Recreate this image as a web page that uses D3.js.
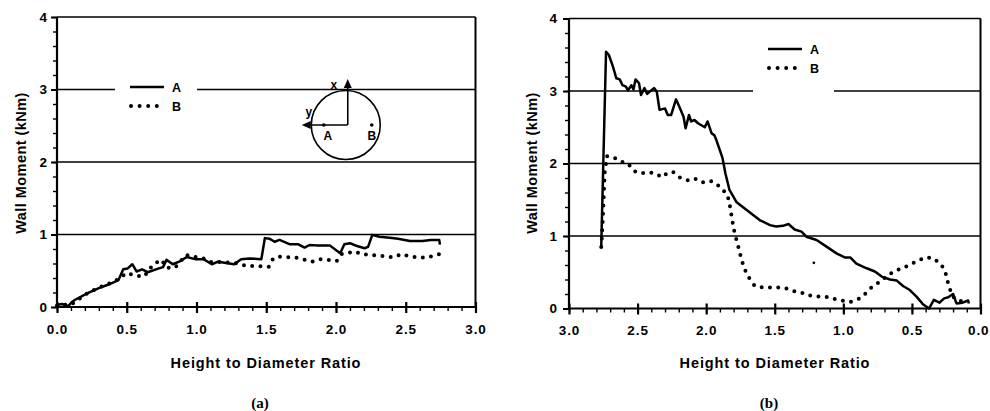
<!DOCTYPE html>
<html>
<head>
<meta charset="utf-8">
<script src="https://cdn.jsdelivr.net/npm/d3@7"></script>
<style>
  body { margin: 0; background: #fff; }
  svg text { font-family: "Liberation Sans", Arial, sans-serif; font-weight: bold; fill: #000; }
  .domain { display: none; }
</style>
</head>
<body>
<svg id="chart" width="990" height="411"></svg>
<script>
// panel (a): moment vs height/diameter during filling
const fillA = [[0,0.03],[0.04,0.04],[0.08,0.01],[0.105,0.065],[0.13,0.1],[0.22,0.19],[0.30,0.26],[0.37,0.31],[0.44,0.37],
  [0.475,0.52],[0.505,0.53],[0.54,0.59],[0.57,0.49],[0.61,0.52],[0.65,0.48],[0.725,0.53],[0.76,0.55],[0.785,0.65],[0.83,0.59],
  [0.88,0.63],[0.93,0.69],[0.99,0.66],[1.05,0.66],[1.11,0.59],[1.155,0.625],[1.27,0.59],[1.32,0.66],[1.38,0.67],[1.465,0.66],
  [1.49,0.95],[1.525,0.94],[1.56,0.90],[1.595,0.925],[1.67,0.865],[1.73,0.865],[1.775,0.82],[1.81,0.855],[1.86,0.85],[1.955,0.85],
  [2.03,0.74],[2.06,0.865],[2.10,0.88],[2.145,0.845],[2.205,0.81],[2.23,0.83],[2.26,0.995],[2.31,0.97],[2.385,0.955],[2.445,0.94],
  [2.53,0.91],[2.62,0.91],[2.68,0.925],[2.74,0.925],[2.745,0.86]]
const fillB = [[0,0.02],[0.06,0.03],[0.1,0.03],[0.18,0.14],[0.235,0.21],[0.34,0.30],[0.41,0.35],[0.5,0.47],[0.565,0.43],
  [0.625,0.42],[0.69,0.59],[0.75,0.65],[0.785,0.54],[0.845,0.54],[0.925,0.72],[0.985,0.69],[1.04,0.68],[1.1,0.62],[1.2,0.62],
  [1.3,0.6],[1.35,0.57],[1.52,0.555],[1.55,0.67],[1.6,0.695],[1.715,0.68],[1.83,0.625],[1.89,0.66],[2.005,0.635],[2.04,0.73],
  [2.14,0.765],[2.18,0.73],[2.3,0.71],[2.415,0.685],[2.47,0.73],[2.53,0.695],[2.65,0.68],[2.74,0.73]]

// panel (b): moment vs height/diameter during discharge
const dischA = [[2.765,0.85],[2.73,3.54],[2.71,3.50],[2.68,3.34],[2.655,3.175],[2.63,3.16],[2.61,3.08],[2.585,3.06],[2.57,3.01],
  [2.545,3.08],[2.53,3.02],[2.515,3.16],[2.49,3.11],[2.475,2.945],[2.45,3.04],[2.43,2.96],[2.405,3.0],[2.38,3.04],[2.36,2.99],
  [2.34,2.74],[2.30,2.76],[2.28,2.67],[2.255,2.67],[2.22,2.885],[2.19,2.76],[2.165,2.645],[2.15,2.485],[2.125,2.67],[2.11,2.58],
  [2.085,2.60],[2.06,2.555],[2.01,2.50],[1.99,2.58],[1.96,2.415],[1.94,2.39],[1.925,2.32],[1.88,2.07],[1.86,1.865],[1.83,1.635],
  [1.78,1.47],[1.705,1.36],[1.61,1.22],[1.535,1.15],[1.49,1.13],[1.44,1.14],[1.40,1.165],[1.355,1.09],[1.305,1.06],[1.27,0.99],
  [1.195,0.945],[1.12,0.85],[1.05,0.76],[0.99,0.705],[0.95,0.705],[0.905,0.62],[0.83,0.555],[0.77,0.51],[0.72,0.44],[0.66,0.40],
  [0.61,0.385],[0.565,0.31],[0.515,0.255],[0.465,0.16],[0.42,0.06],[0.375,0.0],[0.34,0.12],[0.30,0.08],[0.265,0.14],[0.235,0.155],
  [0.20,0.20],[0.175,0.07],[0.13,0.08],[0.09,0.11],[0.085,0.07]]
const dischB = [[2.765,0.85],[2.76,0.99],[2.755,1.175],[2.75,1.40],[2.745,1.635],[2.74,1.865],[2.73,2.0],[2.725,2.10],[2.675,2.085],
  [2.62,2.025],[2.57,2.0],[2.53,1.90],[2.48,1.865],[2.425,1.88],[2.375,1.865],[2.32,1.81],[2.28,1.875],[2.24,1.88],[2.195,1.81],
  [2.135,1.77],[2.085,1.795],[2.03,1.74],[1.97,1.76],[1.935,1.735],[1.885,1.65],[1.845,1.565],[1.83,1.45],[1.82,1.335],[1.81,1.22],
  [1.80,1.105],[1.785,0.99],[1.77,0.885],[1.755,0.77],[1.74,0.66],[1.72,0.545],[1.69,0.43],[1.645,0.31],[1.585,0.29],[1.475,0.29],
  [1.42,0.28],[1.36,0.24],[1.305,0.22],[1.25,0.18],[1.19,0.165],[1.13,0.165],[1.075,0.135],[1.01,0.11],[0.95,0.09],[0.89,0.13],
  [0.845,0.195],[0.79,0.30],[0.74,0.36],[0.68,0.45],[0.625,0.52],[0.565,0.555],[0.51,0.61],[0.455,0.66],[0.40,0.705],[0.34,0.69],
  [0.29,0.61],[0.26,0.53],[0.245,0.415],[0.23,0.30],[0.2,0.16],[0.15,0.1],[0.09,0.12]]
const dischStray = [[1.215,0.63]]

const xMajor = [0, 0.5, 1.0, 1.5, 2.0, 2.5, 3.0]
const xMinor = d3.range(0, 31).map(d => d / 10)
const yMajor = [0, 1, 2, 3, 4]
const yMinor = d3.range(0, 21).map(d => d / 5)
const gridVals = [1, 2, 3]
const seriesNames = ['A', 'B']
const xTitle = 'Height to Diameter Ratio'
const yTitle = 'Wall Moment (kNm)'

const svg = d3.select('#chart')
svg.append('rect').attr('width', 990).attr('height', 411).attr('fill', '#fff')

function styleTicks(sel) {
  sel.selectAll('.tick text').attr('font-size', 13.5).attr('letter-spacing', 0.9)
    .style('font-family', '"Liberation Sans", Arial, sans-serif').style('font-weight', 'bold')
}

function drawPanel(p) {
  const x = d3.scaleLinear().domain(p.xDomain).range([p.left, p.right])
  const y = d3.scaleLinear().domain([0, 4]).range([p.bottom, p.top])
  const g = svg.append('g')
  const x0 = Math.min(x.range()[0], x.range()[1])
  const x1 = Math.max(x.range()[0], x.range()[1])

  // grid, with a gap behind the legend on the 3 line
  gridVals.forEach(v => {
    const segs = v === 3 ? [[x0, p.gap[0]], [p.gap[1], x1]] : [[x0, x1]]
    segs.forEach(s => g.append('line').attr('x1', s[0]).attr('x2', s[1])
      .attr('y1', y(v)).attr('y2', y(v)).attr('stroke', '#000').attr('stroke-width', 1.4))
  })

  // frame
  g.append('line').attr('x1', x0).attr('x2', x1).attr('y1', y(4)).attr('y2', y(4)).attr('stroke', '#000').attr('stroke-width', 1.6)
  g.append('line').attr('x1', x1).attr('x2', x1).attr('y1', y(4)).attr('y2', y(0)).attr('stroke', '#000').attr('stroke-width', 2)
  g.append('line').attr('x1', x0).attr('x2', x0).attr('y1', y(4)).attr('y2', y(0) + 1).attr('stroke', '#000').attr('stroke-width', 2.2)
  g.append('line').attr('x1', x0 - 1).attr('x2', x1 + 1).attr('y1', y(0)).attr('y2', y(0)).attr('stroke', '#000').attr('stroke-width', 2.2)

  // x axis: minor + major ticks
  g.append('g').attr('transform', `translate(0,${y(0)})`)
    .call(d3.axisBottom(x).tickValues(xMinor).tickSize(4).tickFormat(''))
    .selectAll('.tick line').attr('stroke-width', 1.4)
  const xa = g.append('g').attr('transform', `translate(0,${y(0)})`)
    .call(d3.axisBottom(x).tickValues(xMajor).tickSize(6).tickPadding(11).tickFormat(d3.format('.1f')))
  xa.selectAll('.tick line').attr('y1', -5).attr('stroke-width', 2.2)
  styleTicks(xa)
  // keep the label at the window edge inside the picture
  xa.selectAll('.tick text').filter(function () {
    return this.parentNode.getCTM().e + 12 > 990
  }).attr('text-anchor', 'end').attr('x', 990 - 1 - p.right)

  // y axis
  g.append('g').attr('transform', `translate(${x0},0)`)
    .call(d3.axisLeft(y).tickValues(yMinor).tickSize(4).tickFormat(''))
    .selectAll('.tick line').attr('stroke-width', 1.4)
  const ya = g.append('g').attr('transform', `translate(${x0},0)`)
    .call(d3.axisLeft(y).tickValues(yMajor).tickSize(6).tickPadding(p.yPad).tickFormat(d3.format('d')))
  ya.selectAll('.tick line').attr('stroke-width', 2)
  styleTicks(ya)
  ya.selectAll('.tick text').attr('letter-spacing', 0)

  const line = d3.line().x(d => x(d[0])).y(d => y(d[1]))
  g.append('path').datum(p.b).attr('d', line).attr('fill', 'none').attr('stroke', '#000')
    .attr('stroke-width', 4).attr('stroke-linecap', 'round').attr('stroke-dasharray', '0,8.3')
  g.append('path').datum(p.a).attr('d', line).attr('fill', 'none').attr('stroke', '#000')
    .attr('stroke-width', 2.5).attr('stroke-linejoin', 'round')
  if (p.stray) {
    g.selectAll('.stray').data(p.stray).enter().append('circle')
      .attr('cx', d => x(d[0])).attr('cy', d => y(d[1])).attr('r', 1.4).attr('fill', '#000')
  }

  // legend
  const lg = g.append('g').attr('transform', `translate(${p.legend[0]},${p.legend[1]})`)
  lg.append('line').attr('x1', 0).attr('x2', 34).attr('y1', 0).attr('y2', 0).attr('stroke', '#000').attr('stroke-width', 2.5)
  lg.append('line').attr('x1', 1).attr('x2', 30).attr('y1', 19).attr('y2', 19).attr('stroke', '#000')
    .attr('stroke-width', 4).attr('stroke-linecap', 'round').attr('stroke-dasharray', '0,8.6')
  lg.selectAll('text').data(seriesNames).enter().append('text')
    .attr('x', 42).attr('y', (d, i) => i * 19 + 5).attr('font-size', 12.5).text(d => d)

  // titles
  g.append('text').attr('x', p.titleX).attr('y', 368).attr('text-anchor', 'middle').attr('font-size', 14.5)
    .attr('letter-spacing', 0.9).text(xTitle)
  g.append('text').attr('transform', `translate(${p.yTitleX},${163}) rotate(-90)`).attr('text-anchor', 'middle')
    .attr('font-size', 14.5).attr('letter-spacing', 0.45).text(yTitle)
  g.append('text').attr('x', p.titleX - 6).attr('y', 408).attr('text-anchor', 'middle').attr('font-size', 15)
    .style('font-family', '"Liberation Serif", "Times New Roman", serif').text(p.tag)

  return { x, y, g }
}

const left = drawPanel({
  xDomain: [0, 3], left: 57, right: 475.5, top: 17, bottom: 307, gap: [115, 197],
  a: fillA, b: fillB, legend: [130, 87], titleX: 266, yTitleX: 26, yPad: 4, tag: '(a)'
})
drawPanel({
  xDomain: [3, 0], left: 569, right: 980.5, top: 18.5, bottom: 308.5, gap: [753, 834],
  a: dischA, b: dischB, stray: dischStray, legend: [768, 49], titleX: 775, yTitleX: 537, yPad: 6, tag: '(b)'
})

// inset sketch of the silo cross-section with gauge positions A and B
const ins = left.g.append('g')
const cx = left.x(2.07), cy = left.y(2.51)
ins.append('circle').attr('cx', cx).attr('cy', cy).attr('r', 34.5).attr('fill', 'none').attr('stroke', '#000').attr('stroke-width', 1.6)
ins.append('line').attr('x1', cx + 2).attr('x2', cx + 2).attr('y1', cy).attr('y2', cy - 38).attr('stroke', '#000').attr('stroke-width', 1.6)
ins.append('path').attr('d', `M${cx + 2},${cy - 46} l-4,9 l8,0 z`).attr('fill', '#000')
ins.append('line').attr('x1', cx + 2).attr('x2', cx - 36).attr('y1', cy).attr('y2', cy).attr('stroke', '#000').attr('stroke-width', 1.6)
ins.append('path').attr('d', `M${cx - 44},${cy} l9,-4 l0,8 z`).attr('fill', '#000')
ins.append('circle').attr('cx', cx - 22).attr('cy', cy).attr('r', 1.8).attr('fill', '#000')
ins.append('circle').attr('cx', cx + 26).attr('cy', cy).attr('r', 1.8).attr('fill', '#000')
ins.append('text').attr('x', cx - 12).attr('y', cy - 36).attr('text-anchor', 'middle').attr('font-size', 12).text('x')
ins.append('text').attr('x', cx - 37).attr('y', cy - 9).attr('text-anchor', 'middle').attr('font-size', 12).text('y')
ins.append('text').attr('x', cx - 18).attr('y', cy + 15).attr('text-anchor', 'middle').attr('font-size', 12).text('A')
ins.append('text').attr('x', cx + 26).attr('y', cy + 15).attr('text-anchor', 'middle').attr('font-size', 12).text('B')
</script>
</body>
</html>
